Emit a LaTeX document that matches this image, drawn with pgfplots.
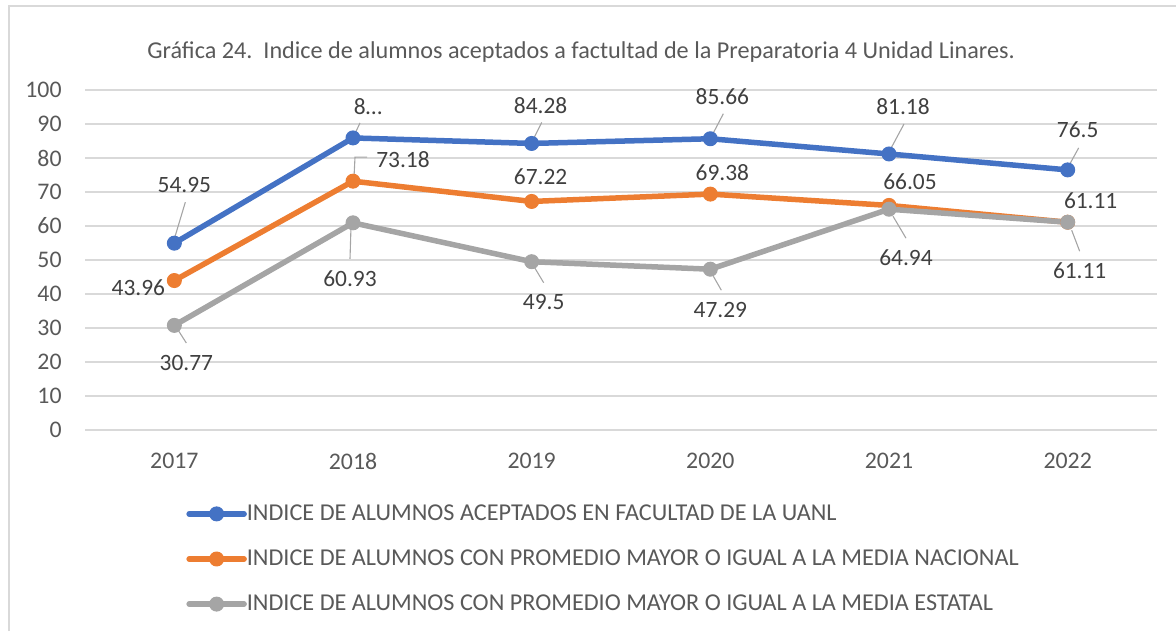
\documentclass[border=0pt]{standalone}
\usepackage{fontspec}
\setmainfont{Carlito}
\usepackage{pgfplots}
\pgfplotsset{compat=1.18}
\definecolor{cblue}{HTML}{4472C4}
\definecolor{corange}{HTML}{ED7D31}
\definecolor{cgray}{HTML}{A5A5A5}
\definecolor{gridc}{HTML}{D9D9D9}
\definecolor{txt}{HTML}{595959}
\definecolor{lblc}{HTML}{404040}
\tikzset{lblsty/.style={inner sep=0pt, font=\fontsize{11.7}{14}\selectfont, text=lblc},
         leader/.style={draw=cgray, line width=0.55pt}}
\newcommand{\lab}[5]{\node[lblsty,xshift={(#3)*0.5pt},yshift={-(#4)*0.5pt}] at (axis cs:#1,#2) {#5};}
\newcommand{\lead}[6]{\draw[leader] ([shift={({(#3)*0.5pt},{-(#4)*0.5pt})}]axis cs:#1,#2) -- ([shift={({(#5)*0.5pt},{-(#6)*0.5pt})}]axis cs:#1,#2);}
\begin{document}
\begin{tikzpicture}
\path[use as bounding box] (0,0) rectangle (588pt,315.5pt);
\draw[gridc, line width=0.75pt] (4.5pt,0) -- (4.5pt,312.5pt) -- (588pt,312.5pt);
\node[anchor=base, font=\fontsize{12.1}{14}\selectfont, text=txt] at (290.5pt,286pt)
  {Gráfica 24.\ \ Indice de alumnos aceptados a factultad de la Preparatoria 4 Unidad Linares.};
\begin{axis}[
  at={(42.5pt,100.5pt)}, anchor=south west, scale only axis,
  width=536pt, height=170pt,
  xmin=-0.5, xmax=5.5, ymin=0, ymax=100,
  xtick={0,1,2,3,4,5}, xticklabels={2017,2018,2019,2020,2021,2022},
  ytick={0,10,...,100},
  axis line style={draw=none}, major tick length=0pt,
  ymajorgrids, grid style={gridc, line width=0.75pt},
  tick label style={font=\fontsize{11.9}{14}\selectfont, text=txt, inner sep=0pt},
  /pgf/number format/assume math mode=true,
  xticklabel style={anchor=center, yshift=-15.5pt},
  yticklabel style={anchor=east, xshift=-11.5pt},
  clip=false,
  legend style={at={(axis description cs:0.0942,-0.3794)}, anchor=west, draw=none, fill=none,
    inner sep=0pt, row sep=13.2pt, column sep=0pt,
    font=\fontsize{12.1}{14}\selectfont, text=txt,
    nodes={inner sep=0pt}},
  legend cell align=left,
  legend image code/.code={\draw[mark repeat=2,mark phase=2,#1] plot coordinates {(0pt,0pt) (13.75pt,0pt) (27.5pt,0pt)};},
]
\addplot[cblue, line width=2.75pt, line cap=round, line join=round, mark=*, mark size=3.5pt, mark options={solid, line width=0.5pt}]
  coordinates {(0,54.95) (1,85.9) (2,84.28) (3,85.66) (4,81.18) (5,76.5)};
\addlegendentry{INDICE DE ALUMNOS ACEPTADOS EN FACULTAD DE LA UANL}
\addplot[corange, line width=2.75pt, line cap=round, line join=round, mark=*, mark size=3.5pt, mark options={solid, line width=0.5pt}]
  coordinates {(0,43.96) (1,73.18) (2,67.22) (3,69.38) (4,66.05) (5,61.11)};
\addlegendentry{INDICE DE ALUMNOS CON PROMEDIO MAYOR O IGUAL A LA MEDIA NACIONAL}
\addplot[cgray, line width=2.75pt, line cap=round, line join=round, mark=*, mark size=3.5pt, mark options={solid, line width=0.5pt}]
  coordinates {(0,30.77) (1,60.93) (2,49.5) (3,47.29) (4,64.94) (5,61.11)};
\addlegendentry{INDICE DE ALUMNOS CON PROMEDIO MAYOR O IGUAL A LA MEDIA ESTATAL}
% blue labels
\lead{0}{54.95}{11}{-41}{-1}{-1}
\lab{0}{54.95}{10}{-58}{54.95}
\lead{1}{85.9}{7}{-15}{0}{0}
\lab{1}{85.9}{15}{-31}{8…}
\lead{2}{84.28}{10}{-21}{0}{-1}
\lab{2}{84.28}{9}{-38}{84.28}
\lead{3}{85.66}{13}{-25}{1}{-2}
\lab{3}{85.66}{12}{-42}{85.66}
\lead{4}{81.18}{15}{-30}{0}{-2}
\lab{4}{81.18}{14}{-47}{81.18}
\lead{5}{76.5}{11}{-22}{0}{-2}
\lab{5}{76.5}{10}{-40}{76.5}
% orange labels
\lab{0}{43.96}{-36}{7.5}{43.96}
\draw[leader] ([shift={(7pt,12pt)}]axis cs:1,73.18) -- ([shift={(1pt,12pt)}]axis cs:1,73.18) -- ([shift={(0.5pt,2pt)}]axis cs:1,73.18);
\lab{1}{73.18}{50}{-22}{73.18}
\lab{2}{67.22}{9}{-24.5}{67.22}
\lab{3}{69.38}{12}{-22}{69.38}
\lab{4}{66.05}{21}{-24}{66.05}
\lab{5}{61.11}{23}{-22}{61.11}
% gray labels
\lead{0}{30.77}{12}{17.6}{2}{2}
\lab{0}{30.77}{12}{37.6}{30.77}
\lead{1}{60.93}{-3}{36}{-2}{4}
\lab{1}{60.93}{-3}{56}{60.93}
\lead{2}{49.5}{12}{21}{3}{6}
\lab{2}{49.5}{12}{40}{49.5}
\lead{3}{47.29}{11}{21}{3}{7}
\lab{3}{47.29}{10}{41}{47.29}
\lead{4}{64.94}{17}{29}{4}{7}
\lab{4}{64.94}{17}{48}{64.94}
\lead{5}{61.11}{12}{29}{4}{8}
\lab{5}{61.11}{12}{48}{61.11}
\end{axis}
\end{tikzpicture}
\end{document}
